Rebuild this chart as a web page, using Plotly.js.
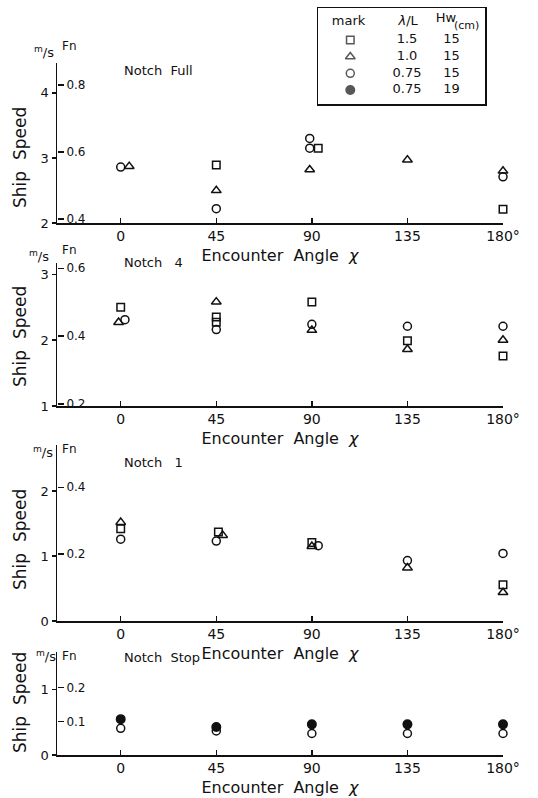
<!DOCTYPE html>
<html>
<head>
<meta charset="utf-8">
<script src="https://cdn.plot.ly/plotly-3.0.1.min.js"></script>
<style>html,body{margin:0;padding:0;background:#fff;}#chart{width:538px;height:798px;}</style>
</head>
<body>
<div id="chart"></div>
<script>
// ---------- data ----------
const angleTicks = [0, 45, 90, 135, 180];
const angleTickText = ['0', '45', '90', '135', '180°'];

// Panel 1: Notch Full
const full_sq_x = [45, 93, 180];
const full_sq_y = [2.89, 3.15, 2.21];
const full_tri_x = [4, 45, 89, 135, 180];
const full_tri_y = [2.87, 2.50, 2.82, 2.97, 2.80];
const full_cir_x = [0, 45, 89, 89, 180];
const full_cir_y = [2.86, 2.22, 3.30, 3.15, 2.71];

// Panel 2: Notch 4
const n4_sq_x = [0, 45, 45, 90, 135, 180];
const n4_sq_y = [2.50, 2.35, 2.27, 2.58, 1.99, 1.76];
const n4_tri_x = [-1, 45, 90, 135, 180];
const n4_tri_y = [2.27, 2.58, 2.15, 1.86, 2.00];
const n4_cir_x = [2, 45, 90, 135, 180];
const n4_cir_y = [2.31, 2.16, 2.24, 2.21, 2.21];

// Panel 3: Notch 1
const n1_sq_x = [0, 46, 90, 180];
const n1_sq_y = [1.42, 1.37, 1.21, 0.56];
const n1_tri_x = [0, 48, 90, 135, 180];
const n1_tri_y = [1.52, 1.32, 1.15, 0.82, 0.44];
const n1_cir_x = [0, 45, 93, 135, 180];
const n1_cir_y = [1.26, 1.23, 1.16, 0.93, 1.04];

// Panel 4: Notch Stop
const stop_cir_x = [0, 45, 90, 135, 180];
const stop_cir_y = [0.41, 0.37, 0.33, 0.33, 0.33];
const stop_fill_x = [0, 45, 90, 135, 180];
const stop_fill_y = [0.55, 0.43, 0.47, 0.47, 0.47];

// y tick values (m/s) and Froude number ticks
const mps1 = [2, 3, 4], fn1 = [0.4, 0.6, 0.8];
const mps2 = [1, 2, 3], fn2 = [0.2, 0.4, 0.6];
const mps3 = [0, 1, 2], fn3 = [0.2, 0.4];
const mps4 = [0, 1],    fn4 = [0.1, 0.2];
const fnText = v => v.toFixed(1);

// legend table
const legSymbols = ['square-open', 'triangle-up-open', 'circle-open', 'circle'];
const legLambda = ['1.5', '1.0', '0.75', '0.75'];
const legHw = ['15', '15', '15', '19'];

const panelNames = ['Notch  Full', 'Notch   4', 'Notch   1', 'Notch  Stop'];

// ---------- layout helpers ----------
const W = 538, H = 798;
const px = x => x / W;
const py = y => 1 - y / H;
const K = 5.15; // m/s per unit Fn
const FONT = 'DejaVu Sans, Arial, sans-serif';
const INK = '#111';

const xDom = [px(57), px(503)];
const panels = [
  {yr: [2, 4.46], dom: [py(223), py(63)], mps: mps1, fn: fn1},
  {yr: [1, 3.17], dom: [py(406), py(263)], mps: mps2, fn: fn2},
  {yr: [0, 2.71], dom: [py(621), py(445)], mps: mps3, fn: fn3},
  {yr: [0, 1.58], dom: [py(755), py(652)], mps: mps4, fn: fn4}
];

const mk = (sym, size) => ({symbol: sym, size: size, color: INK, line: {color: INK, width: 1.5}});
const SQ = mk('square-open', 7.5), TRI = mk('triangle-up-open', 8.5), CIR = mk('circle-open', 8), FIL = mk('circle', 8.5);

function pts(x, y, marker, i) {
  const s = i === 0 ? '' : String(i + 1);
  return {type: 'scatter', mode: 'markers', x: x, y: y, marker: marker,
          xaxis: 'x' + s, yaxis: 'y' + s, showlegend: false, hoverinfo: 'x+y', cliponaxis: false};
}

const traces = [
  pts(full_sq_x, full_sq_y, SQ, 0), pts(full_tri_x, full_tri_y, TRI, 0), pts(full_cir_x, full_cir_y, CIR, 0),
  pts(n4_sq_x, n4_sq_y, SQ, 1), pts(n4_tri_x, n4_tri_y, TRI, 1), pts(n4_cir_x, n4_cir_y, CIR, 1),
  pts(n1_sq_x, n1_sq_y, SQ, 2), pts(n1_tri_x, n1_tri_y, TRI, 2), pts(n1_cir_x, n1_cir_y, CIR, 2),
  pts(stop_cir_x, stop_cir_y, CIR, 3), pts(stop_fill_x, stop_fill_y, FIL, 3)
];

const layout = {
  width: W, height: H,
  margin: {l: 0, r: 0, t: 0, b: 0},
  paper_bgcolor: '#fff', plot_bgcolor: 'rgba(0,0,0,0)',
  font: {family: FONT, color: INK, size: 13},
  showlegend: false,
  annotations: [], shapes: []
};

panels.forEach((p, i) => {
  const s = i === 0 ? '' : String(i + 1);
  const fnAxisIdx = i + 6;
  layout['xaxis' + s] = {
    domain: xDom, range: [-30, 180], anchor: 'y' + s,
    tickvals: angleTicks, ticktext: angleTickText,
    ticks: 'inside', ticklen: 5, tickwidth: 1.3, tickcolor: INK,
    showline: true, linecolor: INK, linewidth: 1.5,
    showgrid: false, zeroline: false, automargin: false,
    tickfont: {size: 14, family: FONT},
    title: {text: 'Encounter  Angle  <i>χ</i>', font: {size: 16, family: FONT}, standoff: 6}
  };
  layout['yaxis' + s] = {
    domain: p.dom, range: p.yr, anchor: 'x' + s,
    tickvals: p.mps, ticks: 'outside', ticklen: 4, tickwidth: 1.3, tickcolor: INK,
    showline: true, linecolor: INK, linewidth: 1.5,
    showgrid: false, zeroline: false, automargin: false,
    tickfont: {size: 13, family: FONT}
  };
  layout['yaxis' + fnAxisIdx] = {
    overlaying: 'y' + s, anchor: 'free', position: xDom[0], side: 'right',
    range: [p.yr[0] / K, p.yr[1] / K],
    tickvals: p.fn, ticktext: p.fn.map(fnText),
    ticks: 'outside', ticklen: 6, tickwidth: 1.3, tickcolor: INK, ticklabelstandoff: 0,
    showline: false, showgrid: false, zeroline: false, automargin: false,
    tickfont: {size: 12, family: FONT}
  };
  traces.push({type: 'scatter', mode: 'markers', x: [], y: [], xaxis: 'x' + s, yaxis: 'y' + fnAxisIdx,
               showlegend: false, hoverinfo: 'skip'});
});

// panel annotations
const shipY = [158, 337, 540, 703];
const unitPos = [[44, 52], [39, 256], [43, 452], [46, 656]];
const fnPos = [[60, 46], [60, 250], [60, 449], [60, 656]];
const namePos = [[122, 70], [122, 262], [122, 462], [122, 657]];
for (let i = 0; i < 4; i++) {
  layout.annotations.push({xref: 'paper', yref: 'paper', x: px(20), y: py(shipY[i]), text: 'Ship  Speed',
    textangle: -90, showarrow: false, font: {size: 17, family: FONT}, xanchor: 'center', yanchor: 'middle'});
  layout.annotations.push({xref: 'paper', yref: 'paper', x: px(unitPos[i][0]), y: py(unitPos[i][1]),
    text: '<sup>m</sup>/s', showarrow: false, font: {size: 13, family: FONT}, xanchor: 'center', yanchor: 'middle'});
  layout.annotations.push({xref: 'paper', yref: 'paper', x: px(fnPos[i][0]), y: py(fnPos[i][1]),
    text: 'Fn', showarrow: false, font: {size: 12, family: FONT}, xanchor: 'left', yanchor: 'middle'});
  layout.annotations.push({xref: 'paper', yref: 'paper', x: px(namePos[i][0]), y: py(namePos[i][1]),
    text: panelNames[i], showarrow: false, font: {size: 13, family: FONT}, xanchor: 'left', yanchor: 'middle'});
}

// legend table on its own axes
layout.xaxis5 = {domain: [px(318), px(485)], range: [0, 3], anchor: 'y5', showline: true, mirror: true,
  linecolor: INK, linewidth: 1.5, showticklabels: false, ticks: '', showgrid: false, zeroline: false};
layout.yaxis5 = {domain: [py(104), py(8)], range: [4.84, -0.92], anchor: 'x5', showline: true, mirror: true,
  linecolor: INK, linewidth: 1.5, showticklabels: false, ticks: '', showgrid: false, zeroline: false};
const legRows = legSymbols.map((_, i) => i + 1);
traces.push({type: 'scatter', mode: 'markers', xaxis: 'x5', yaxis: 'y5', x: legRows.map(() => 0.58), y: legRows,
  marker: {symbol: legSymbols, size: [7.5, 8.5, 8, 8.5], color: INK, line: {color: INK, width: 1.5}},
  showlegend: false, hoverinfo: 'skip'});
traces.push({type: 'scatter', mode: 'text', xaxis: 'x5', yaxis: 'y5', x: legRows.map(() => 1.6), y: legRows,
  text: legLambda, textfont: {size: 13, family: FONT, color: INK}, showlegend: false, hoverinfo: 'skip'});
traces.push({type: 'scatter', mode: 'text', xaxis: 'x5', yaxis: 'y5', x: legRows.map(() => 2.4), y: legRows,
  text: legHw, textfont: {size: 13, family: FONT, color: INK}, showlegend: false, hoverinfo: 'skip'});
traces.push({type: 'scatter', mode: 'text', xaxis: 'x5', yaxis: 'y5', x: [0.55, 1.62, 2.3], y: [-0.1, -0.1, -0.3],
  text: ['mark', '<i>λ</i>/L', 'Hw'], textfont: {size: 13, family: FONT, color: INK}, showlegend: false, hoverinfo: 'skip'});
layout.annotations.push({xref: 'paper', yref: 'paper', x: px(466), y: py(26), text: '(cm)', showarrow: false,
  font: {size: 11, family: FONT}, xanchor: 'center', yanchor: 'middle'});

Plotly.newPlot('chart', traces, layout, {displayModeBar: false, staticPlot: true});
</script>
</body>
</html>
